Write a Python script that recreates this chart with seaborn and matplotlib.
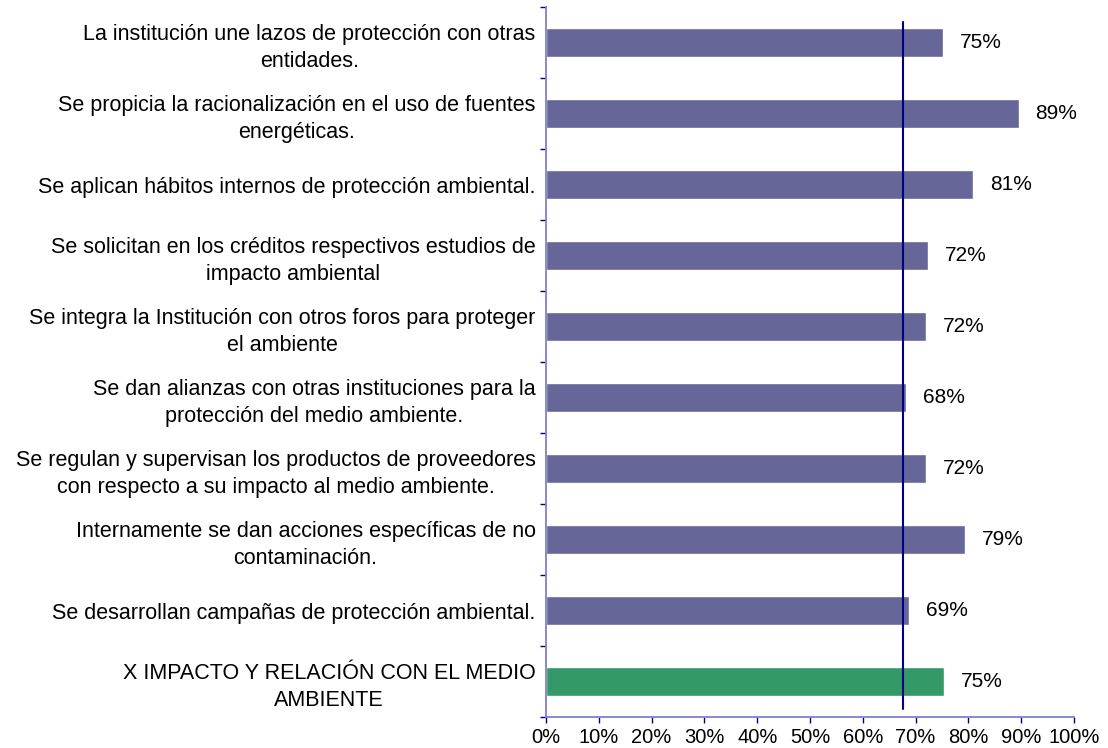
import pandas as pd
import matplotlib
matplotlib.use("Agg")
import matplotlib.pyplot as plt
import seaborn as sns
from matplotlib.ticker import PercentFormatter, FixedLocator

# Data
categories = [
    "La institución une lazos de protección con otras\nentidades.",
    "Se propicia la racionalización en el uso de fuentes\nenergéticas.",
    "Se aplican hábitos internos de protección ambiental.",
    "Se solicitan en los créditos respectivos estudios de\nimpacto ambiental",
    "Se integra la Institución con otros foros para proteger\nel ambiente",
    "Se dan alianzas con otras instituciones para la\nprotección del medio ambiente.",
    "Se regulan y supervisan los productos de proveedores\ncon respecto a su impacto al medio ambiente.",
    "Internamente se dan acciones específicas de no\ncontaminación.",
    "Se desarrollan campañas de protección ambiental.",
    "X IMPACTO Y RELACIÓN CON EL MEDIO\nAMBIENTE",
]
values = [0.751, 0.895, 0.809, 0.723, 0.719, 0.682, 0.719, 0.794, 0.687, 0.754]
value_labels = ["75%", "89%", "81%", "72%", "72%", "68%", "72%", "79%", "69%", "75%"]
reference_value = 0.676

bar_color = "#666699"
total_color = "#339966"
colors = [bar_color] * (len(categories) - 1) + [total_color]

df = pd.DataFrame({"item": categories, "value": values})

sns.set_style("white")
plt.rcParams["font.family"] = ["Liberation Sans", "DejaVu Sans"]
plt.rcParams["text.color"] = "black"
plt.rcParams["xtick.labelcolor"] = "black"
plt.rcParams["ytick.labelcolor"] = "black"

fig = plt.figure(figsize=(11.08, 7.48), dpi=100)
ax = fig.add_axes([546 / 1108, 1 - 717 / 748, 528 / 1108, 710 / 748])

sns.barplot(data=df, y="item", x="value", hue="item", palette=colors,
            orient="h", width=0.41, legend=False, ax=ax, saturation=1)

for i, (v, lab) in enumerate(zip(values, value_labels)):
    ax.text(v + 0.032, i, lab, va="center", ha="left", fontsize=15, color="black")

# average reference line
ax.plot([reference_value, reference_value], [-0.29, 9.39], color="#000080", lw=1.5)

ax.set_xlim(0, 1)
ax.set_ylim(len(categories) - 0.5, -0.5)
ax.xaxis.set_major_locator(FixedLocator([i / 10 for i in range(11)]))
ax.xaxis.set_major_formatter(PercentFormatter(1.0, decimals=0))
ax.set_xlabel("")
ax.set_ylabel("")

ax.set_yticks(range(len(categories)))
ax.set_yticklabels(categories, multialignment="center", fontsize=15.5, linespacing=1.35)
ax.yaxis.set_minor_locator(FixedLocator([i - 0.5 for i in range(len(categories) + 1)]))
ax.tick_params(axis="y", which="major", length=0, pad=7.5)
ax.tick_params(axis="y", which="minor", length=4, color="#000080", width=1, left=True)
ax.tick_params(axis="x", which="major", length=4, color="#000080", width=1,
               labelsize=14.5, pad=4, bottom=True)

for side in ["top", "right"]:
    ax.spines[side].set_visible(False)
for side in ["left", "bottom"]:
    ax.spines[side].set_color("#7f7fc8")
    ax.spines[side].set_linewidth(1.3)

plt.savefig("out.png", dpi=100)
